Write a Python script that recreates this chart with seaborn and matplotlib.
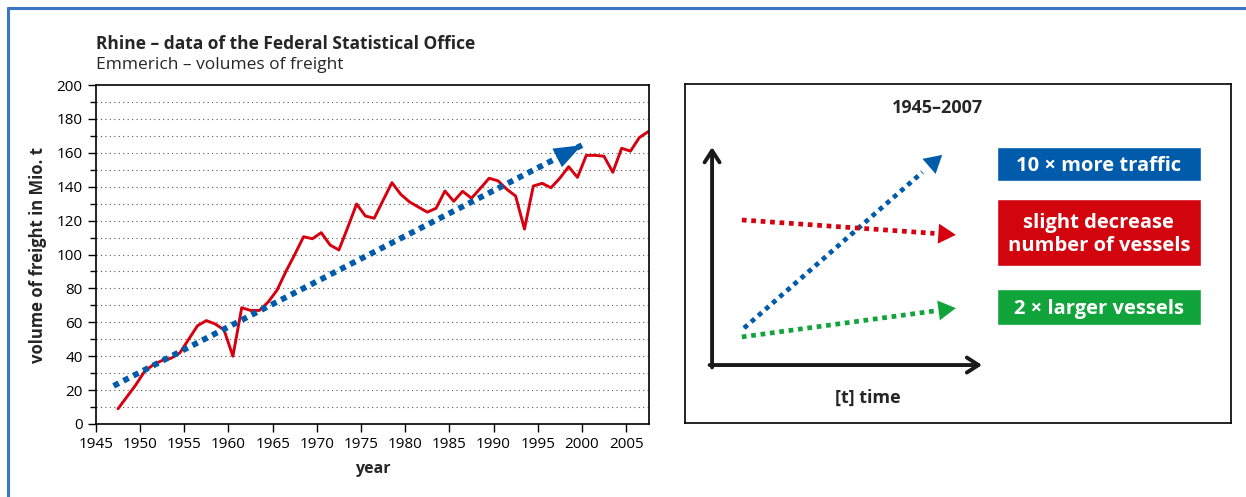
import numpy as np
import pandas as pd
import seaborn as sns
import matplotlib.pyplot as plt
from matplotlib.lines import Line2D

# %% data
years = list(range(1947, 2008))
freight = [9, 16, 23, 31, 35, 37.5, 38.8, 42, 50, 58,
           61, 59, 55.5, 40, 68.6, 67, 67, 72, 79, 90,
           100, 110.5, 109.3, 112.9, 105.6, 102.7, 116, 129.8, 122.7, 121.4,
           132, 142.4, 135.5, 131, 128, 125, 127.3, 137.5, 131.4, 137.3,
           133.2, 139, 145, 143.5, 138.5, 134.5, 115, 140.4, 142, 139.4,
           145, 151.8, 145.5, 158.5, 158.5, 158, 148.5, 162.7, 161, 169,
           172.5]
trend_years = [1947, 2000]
trend_values = [22.5, 164.5]

# schematic panel (0-100 box units)
sketch_traffic = [(10.8, 28.0), (47.1, 79.1)]
sketch_vessels = [(10.4, 59.9), (49.6, 55.5)]
sketch_size = [(10.4, 25.4), (49.6, 33.9)]
box_labels = ["10 × more traffic", "slight decrease\nnumber of vessels", "2 × larger vessels"]
box_colors = ["#005BAA", "#D2050F", "#10A43A"]
box_bottoms = [71.4, 46.3, 28.9]
box_tops = [81.4, 66.1, 39.5]

BLUE, RED, GREEN = "#005BAA", "#D7000F", "#10A43A"

sns.set_theme(style="white")
plt.rcParams['font.family'] = ['Open Sans', 'DejaVu Sans']

fig = plt.figure(figsize=(12.46, 4.97), dpi=100)

# %% left chart
ax = fig.add_axes([0.0770, 0.1469, 0.4439, 0.682])
df = pd.DataFrame({"year": years, "freight": freight})
df["x"] = df["year"] + 0.5
sns.lineplot(data=df, x="x", y="freight", color=RED, linewidth=2.1, ax=ax)

ax.plot(trend_years, trend_values, color=BLUE, linewidth=4.2,
        linestyle=(0, (1, 0.9)), dash_capstyle="butt")
dx = trend_years[1] - trend_years[0]
dy = trend_values[1] - trend_values[0]
ax.annotate("", xy=(trend_years[1], trend_values[1]),
            xytext=(trend_years[1] - 0.06 * dx, trend_values[1] - 0.06 * dy),
            arrowprops=dict(arrowstyle="-|>,head_length=0.8,head_width=0.3",
                            color=BLUE, lw=0, mutation_scale=25,
                            shrinkA=0, shrinkB=0))

ax.set_xlim(1945, 2007.6)
ax.set_ylim(0, 200)
ax.set_xticks(range(1945, 2006, 5))
ax.set_yticks(range(0, 201, 20))
ax.set_yticks(range(0, 201, 10), minor=True)
for y in range(10, 200, 10):
    ax.axhline(y, color="#555555", linewidth=0.8, linestyle=(0, (1, 3)), zorder=0)
ax.tick_params(axis="both", which="both", direction="out", length=6, width=1,
               colors="black", labelsize=11, bottom=True, left=True)
ax.tick_params(axis="y", which="minor", length=4)
for s in ax.spines.values():
    s.set_color("black")
    s.set_linewidth(1.2)
ax.set_xlabel("year", fontsize=11.5, fontweight="bold")
ax.set_ylabel("volume of freight in Mio. t", fontsize=12, fontweight="bold")
ax.xaxis.set_label_coords(0.5, -0.11)
ax.yaxis.set_label_coords(-0.088, 0.5)

fig.text(0.0770, 0.9115, "Rhine – data of the Federal Statistical Office",
         fontsize=12.5, fontweight="bold", ha="left", va="center")
fig.text(0.0770, 0.869, "Emmerich – volumes of freight",
         fontsize=12.5, ha="left", va="center")

# %% right schematic
bx = fig.add_axes([0.5498, 0.1489, 0.4382, 0.682])
bx.set_xlim(0, 100)
bx.set_ylim(0, 100)
bx.set_xticks([])
bx.set_yticks([])
for s in bx.spines.values():
    s.set_color("black")
    s.set_linewidth(1.2)

axis_style = dict(arrowstyle="->,head_length=0.7,head_width=0.45", color="#1a1a1a",
                  lw=2.8, shrinkA=0, shrinkB=0)
bx.annotate("", xy=(4.95, 81.4), xytext=(4.95, 16.4), arrowprops=axis_style)
bx.annotate("", xy=(54.4, 17.1), xytext=(4.5, 17.1), arrowprops=axis_style)

for pts, col in [(sketch_traffic, BLUE), (sketch_vessels, RED), (sketch_size, GREEN)]:
    (x0, y0), (x1, y1) = pts
    f = 0.9
    bx.plot([x0, x0 + f * (x1 - x0)], [y0, y0 + f * (y1 - y0)], color=col,
            linewidth=3.4, linestyle=(0, (1, 1)), dash_capstyle="butt")
    bx.annotate("", xy=(x1, y1), xytext=(x0 + f * (x1 - x0), y0 + f * (y1 - y0)),
                arrowprops=dict(arrowstyle="-|>,head_length=0.7,head_width=0.4",
                                color=col, lw=0, mutation_scale=18,
                                shrinkA=0, shrinkB=0))

for lab, col, b, t in zip(box_labels, box_colors, box_bottoms, box_tops):
    bx.bar(75.8, t - b, bottom=b, width=37.4, color=col)
    bx.text(75.8, (b + t) / 2 - 0.5, lab, color="white", fontsize=14.5, fontweight="bold",
            ha="center", va="center", linespacing=1.2)

bx.text(46.2, 92.9, "1945–2007", fontsize=13, fontweight="bold", ha="center", va="center")
bx.text(33.5, 7.4, "[t] time", fontsize=13, fontweight="bold", ha="center", va="center")

# %% outer blue frame (top and left)
fig.add_artist(Line2D([0.0064, 1], [0.984, 0.984], color="#3a76c4", linewidth=2.2))
fig.add_artist(Line2D([0.0064, 0.0064], [0, 0.984], color="#3a76c4", linewidth=2.2))

fig.savefig("out.png", dpi=100)
